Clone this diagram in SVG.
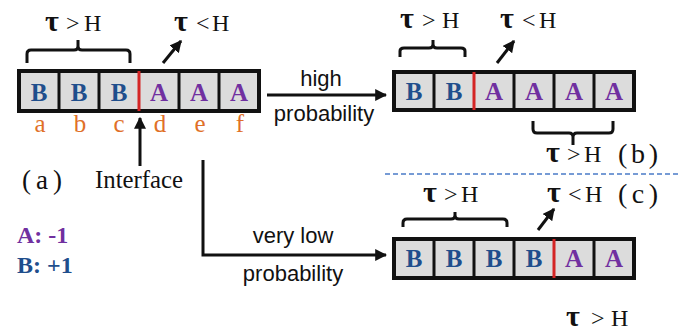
<svg xmlns="http://www.w3.org/2000/svg" width="680" height="331" viewBox="0 0 680 331">
<defs>
<marker id="ah" viewBox="0 0 10 10" refX="9" refY="5" markerWidth="4" markerHeight="4" markerUnits="strokeWidth" orient="auto">
<path d="M0,0 L10,5 L0,10 z" fill="#111"/>
</marker>
<style>
.box{fill:#dcdcdc;stroke:#111;stroke-width:4}
.div{stroke:#111;stroke-width:3}
.ifc{stroke:#d42525;stroke-width:3}
.B,.A,.lbl,.t,.tau,.ser,.leg{font-family:'Liberation Serif','Times New Roman','DejaVu Serif',serif}
.B{font-weight:bold;font-size:25px;fill:#1f4e8c;text-anchor:middle}
.A{font-weight:bold;font-size:25px;fill:#7030a0;text-anchor:middle}
.lbl{font-size:25px;fill:#e07028;text-anchor:middle}
.t{font-size:24px;fill:#111}
.tau{font-size:30px;font-weight:bold;fill:#111}
.brace{fill:none;stroke:#111;stroke-width:3}
.arr{fill:none;stroke:#111;stroke-width:3}
.sans{font-family:'Liberation Sans',Arial,sans-serif;font-size:22px;fill:#111;text-anchor:middle}
.ser{font-size:25px;fill:#111}
.leg{font-weight:bold;font-size:24px}
</style>
</defs>
<rect width="680" height="331" fill="#fff"/>

<g id="chainA">
<rect class="box" x="19" y="71" width="240" height="40"/>
<line class="div" x1="59" y1="71" x2="59" y2="111"/>
<line class="div" x1="99" y1="71" x2="99" y2="111"/>
<line class="div" x1="179" y1="71" x2="179" y2="111"/>
<line class="div" x1="219" y1="71" x2="219" y2="111"/>
<line class="ifc" x1="139" y1="71" x2="139" y2="111"/>
<text class="B" x="39" y="101">B</text>
<text class="B" x="79" y="101">B</text>
<text class="B" x="119" y="101">B</text>
<text class="A" x="159" y="101">A</text>
<text class="A" x="199" y="101">A</text>
<text class="A" x="239" y="101">A</text>
<text class="lbl" x="40" y="132">a</text>
<text class="lbl" x="80" y="132">b</text>
<text class="lbl" x="119" y="132">c</text>
<text class="lbl" x="160" y="132">d</text>
<text class="lbl" x="200" y="132">e</text>
<text class="lbl" x="240" y="132">f</text>
<path class="brace" d="M27,63 V54 Q27,50 31,50 H74 Q78,50 78,46 V40 M78,46 Q78,50 82,50 H126 Q130,50 130,54 V63"/>
<text x="45" y="31"><tspan class="tau">τ</tspan><tspan class="t" x="66">&gt;</tspan><tspan class="t" x="84">H</tspan></text>
<text x="174" y="31"><tspan class="tau">τ</tspan><tspan class="t" x="196">&lt;</tspan><tspan class="t" x="212">H</tspan></text>
<text class="ser" x="22" y="189" textLength="40" lengthAdjust="spacing" style="font-size:27px">(a)</text>
<text class="ser" x="95" y="188" textLength="88" lengthAdjust="spacingAndGlyphs">Interface</text>
</g>

<g id="chainB">
<rect class="box" x="394" y="72" width="240" height="38"/>
<line class="div" x1="434" y1="72" x2="434" y2="110"/>
<line class="div" x1="514" y1="72" x2="514" y2="110"/>
<line class="div" x1="554" y1="72" x2="554" y2="110"/>
<line class="div" x1="594" y1="72" x2="594" y2="110"/>
<line class="ifc" x1="474" y1="72" x2="474" y2="110"/>
<text class="B" x="414" y="100">B</text>
<text class="B" x="454" y="100">B</text>
<text class="A" x="494" y="100">A</text>
<text class="A" x="534" y="100">A</text>
<text class="A" x="574" y="100">A</text>
<text class="A" x="614" y="100">A</text>
<path class="brace" d="M400,57 V51 Q400,48 404,48 H429 Q433,48 433,44 V40 M433,44 Q433,48 437,48 H461 Q465,48 465,51 V57"/>
<path class="brace" d="M533,121 V129 Q533,133 537,133 H569 Q573,133 573,137 V145 M573,137 Q573,133 577,133 H609 Q613,133 613,129 V121"/>
<text x="546" y="162"><tspan class="tau">τ</tspan><tspan class="t" x="567">&gt;</tspan><tspan class="t" x="584">H</tspan></text>
<text x="400" y="28"><tspan class="tau">τ</tspan><tspan class="t" x="422">&gt;</tspan><tspan class="t" x="442">H</tspan></text>
<text x="500" y="28"><tspan class="tau">τ</tspan><tspan class="t" x="522">&lt;</tspan><tspan class="t" x="539">H</tspan></text>
<text class="ser" x="618" y="163" textLength="40" lengthAdjust="spacing" style="font-size:28px">(b)</text>
</g>

<g id="chainC">
<rect class="box" x="394" y="239" width="240" height="39"/>
<line class="div" x1="434" y1="239" x2="434" y2="278"/>
<line class="div" x1="474" y1="239" x2="474" y2="278"/>
<line class="div" x1="514" y1="239" x2="514" y2="278"/>
<line class="div" x1="594" y1="239" x2="594" y2="278"/>
<line class="ifc" x1="554" y1="239" x2="554" y2="278"/>
<text class="B" x="414" y="267">B</text>
<text class="B" x="454" y="267">B</text>
<text class="B" x="494" y="267">B</text>
<text class="B" x="534" y="267">B</text>
<text class="A" x="574" y="267">A</text>
<text class="A" x="614" y="267">A</text>
<path class="brace" d="M403,227 V223 Q403,219 407,219 H451 Q455,219 455,215 V212 M455,215 Q455,219 459,219 H503 Q507,219 507,223 V227"/>
<text x="423" y="202"><tspan class="tau">τ</tspan><tspan class="t" x="444">&gt;</tspan><tspan class="t" x="461">H</tspan></text>
<text x="547" y="202"><tspan class="tau">τ</tspan><tspan class="t" x="568">&lt;</tspan><tspan class="t" x="585">H</tspan></text>
<text class="ser" x="618" y="203" textLength="40" lengthAdjust="spacing" style="font-size:28px">(c)</text>
<text x="566" y="326"><tspan class="tau">τ</tspan><tspan class="t" x="591">&gt;</tspan><tspan class="t" x="611">H</tspan></text>
</g>

<g id="legend">
<text class="leg" x="17" y="243" fill="#7030a0">A: -1</text>
<text class="leg" x="17" y="273" fill="#1f4e8c">B: +1</text>
</g>

<g id="connectors">
<line class="arr" x1="163" y1="63" x2="181" y2="41" marker-end="url(#ah)"/>
<line class="arr" x1="497" y1="63" x2="514" y2="41" marker-end="url(#ah)"/>
<line class="arr" x1="538" y1="230" x2="554" y2="209" marker-end="url(#ah)"/>
<line class="arr" x1="140" y1="166" x2="140" y2="118" marker-end="url(#ah)"/>
<line class="arr" x1="267" y1="95" x2="386" y2="95" marker-end="url(#ah)"/>
<polyline class="arr" points="203,160 203,255 386,255" marker-end="url(#ah)"/>
<line x1="385" y1="174" x2="678" y2="174" stroke="#4a7bc8" stroke-width="1.5" stroke-dasharray="5,3"/>
<text class="sans" x="321" y="86">high</text>
<text class="sans" x="324" y="121">probability</text>
<text class="sans" x="293" y="243">very low</text>
<text class="sans" x="293" y="281">probability</text>
</g>
</svg>
